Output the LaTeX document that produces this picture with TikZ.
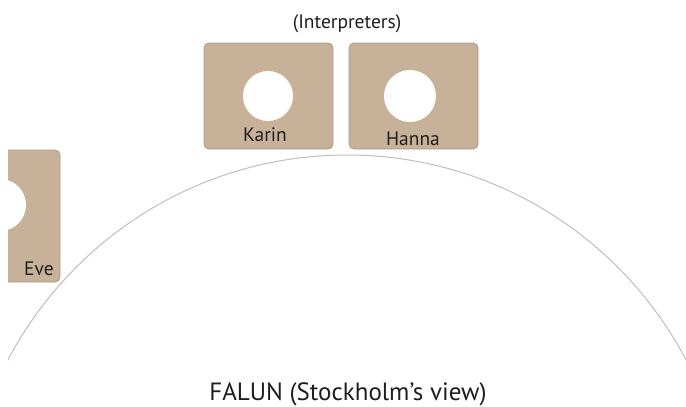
\documentclass[tikz,border=0pt]{standalone}
\usepackage{fontspec}
\setmainfont{PT Sans}
\definecolor{tan}{RGB}{200,177,153}
\definecolor{tanedge}{RGB}{170,152,134}
\definecolor{arcgray}{RGB}{190,190,190}
\definecolor{txt}{RGB}{30,30,30}
\begin{document}
\begin{tikzpicture}[x=1pt,y=-1pt,
  seat/.style={fill=tan,draw=tanedge,line width=0.8pt,rounded corners=5pt},
  hole/.style={fill=white,draw=none},
  lbl/.style={inner sep=0pt,text=txt,font=\fontsize{19.5}{19.5}\selectfont,anchor=base},
  ]
\useasboundingbox (0,0) rectangle (686,407);
% arc
\begin{scope}
\clip (8,0) rectangle (686,361);
\draw[arcgray,line width=1pt] (347,537.8) circle[radius=382.8];
\end{scope}
% Karin
\draw[seat] (204,43) rectangle (333,149);
\fill[hole] (268,96) circle[radius=25];
\node[lbl] (karin) at (265,141) {Karin};
% Hanna
\draw[seat] (349,43) rectangle (478,149);
\fill[hole] (410,96) circle[radius=26];
\node[lbl] (hanna) at (413,145) {Hanna};
% Eve
\begin{scope}
\clip (8,0) rectangle (686,407);
\draw[seat] (-20,150) rectangle (60,282);
\fill[hole] (0,205) circle[radius=26];
\end{scope}
\node[lbl] (eve) at (39,275) {Eve};
\node[lbl,font=\fontsize{19.5}{19.5}\selectfont] (interp) at (347,28) {(Interpreters)};
\node[lbl,font=\fontsize{25}{25}\selectfont] (falun) at (348,400.5) {FALUN (Stockholm’s view)};
\end{tikzpicture}
\end{document}
